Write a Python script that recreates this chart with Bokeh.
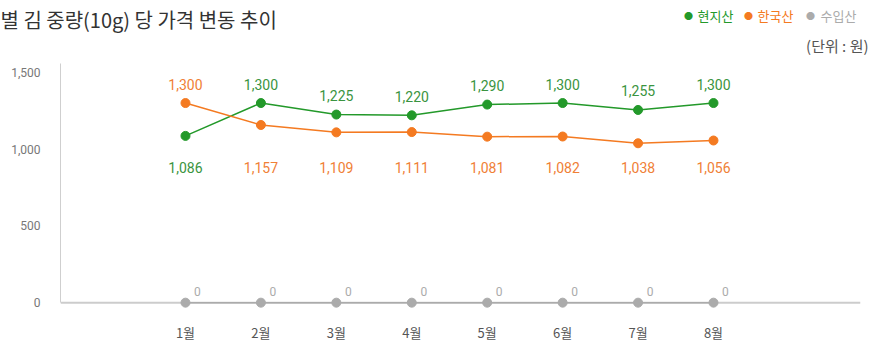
from bokeh.plotting import figure
from bokeh.layouts import column
from bokeh.models import Range1d, FixedTicker, NumeralTickFormatter, Span, Label, ColumnDataSource
from bokeh.core.properties import value
from bokeh.embed import file_html
from bokeh.resources import INLINE

# ---- data ----
months = ["1월", "2월", "3월", "4월", "5월", "6월", "7월", "8월"]
local_price = [1086, 1300, 1225, 1220, 1290, 1300, 1255, 1300]     # 현지산
korean_price = [1300, 1157, 1109, 1111, 1081, 1082, 1038, 1056]    # 한국산
imported_price = [0, 0, 0, 0, 0, 0, 0, 0]                          # 수입산
y_ticks = [0, 500, 1000, 1500]
series_names = ["현지산", "한국산", "수입산"]
title_text = "별 김 중량(10g) 당 가격 변동 추이"
unit_text = "(단위 : 원)"

GREEN = "#23992a"
GREEN_TXT = "#3a9440"
ORANGE = "#f47a21"
ORANGE_TXT = "#f08036"
GRAY = "#ababab"
KR = "Noto Sans CJK KR"
NUM = "Roboto"

W = 874
HEAD_H = 60
MAIN_H = 284
LEFT, RIGHT, BOTTOM = 60, 14, 28

# ---------- header (title, legend, unit) ----------
head = figure(width=W, height=HEAD_H, output_backend="svg", toolbar_location=None,
              min_border=0, x_range=Range1d(0, W), y_range=Range1d(HEAD_H, 0),
              frame_align=False)
head.axis.visible = False
head.grid.visible = False
head.outline_line_color = None
head.border_fill_color = "white"

def hlabel(px, py, txt, color, size, font=KR, align="left"):
    head.add_layout(Label(x=px, y=py, text=txt, text_font=font, text_font_size=size,
                          text_color=color, text_baseline="middle", text_align=align))

hlabel(0, 19, title_text, "#333333", "20px")
legend_items = [(688, 697, GREEN, series_names[0]), (748, 757, ORANGE, series_names[1]),
                (810, 820, GRAY, series_names[2])]
for dx, lx, col, name in legend_items:
    hlabel(dx, 15, "●", col, "9px", align="center")
    hlabel(lx, 15, name, col, "13px")
hlabel(868, 45, unit_text, "#555555", "15px", align="right")

# ---------- main chart ----------
x = list(range(len(months)))

p = figure(width=W, height=MAIN_H, output_backend="svg", toolbar_location=None,
           min_border_left=LEFT, min_border_right=RIGHT,
           min_border_top=0, min_border_bottom=BOTTOM,
           x_range=Range1d(-1.657, 8.949), y_range=Range1d(-64, 1577),
           frame_align=False)
p.outline_line_color = None
p.grid.visible = False
p.background_fill_color = "white"
p.border_fill_color = "white"

p.xaxis.ticker = FixedTicker(ticks=x)
p.xaxis.major_label_overrides = {i: m for i, m in enumerate(months)}
p.xaxis.axis_line_color = None
p.xaxis.major_tick_line_color = None
p.xaxis.minor_tick_line_color = None
p.xaxis.major_label_text_font = KR
p.xaxis.major_label_text_font_size = "13px"
p.xaxis.major_label_text_color = "#555555"
p.xaxis.major_label_standoff = 4

p.yaxis.ticker = FixedTicker(ticks=y_ticks)
p.yaxis.formatter = NumeralTickFormatter(format="0,0")
p.yaxis.bounds = (0, 1560)
p.yaxis.axis_line_color = "#cfcfcf"
p.yaxis.major_tick_line_color = None
p.yaxis.minor_tick_line_color = None
p.yaxis.major_label_text_font = NUM
p.yaxis.major_label_text_font_size = "12px"
p.yaxis.major_label_text_color = "#777777"
p.yaxis.major_label_standoff = 14

p.add_layout(Span(location=0, dimension="width", line_color="#cccccc", line_width=2, level="underlay"))

local_above = [a >= b for a, b in zip(local_price, korean_price)]
lower_vals = [min(a, b) for a, b in zip(local_price, korean_price)]
low_level = min(lower_vals)

def add_series(vals, color, txt_color, above_flags):
    src = ColumnDataSource(dict(
        x=x, y=vals,
        ly=[v if a else low_level for v, a in zip(vals, above_flags)],
        label=[f"{v:,}" for v in vals],
        yoff=[-19 if a else 24 for a in above_flags],
    ))
    p.line("x", "y", source=src, line_color=color, line_width=1.5)
    p.scatter("x", "y", source=src, size=9, fill_color=color, line_color=color)
    p.text("x", "ly", text="label", source=src, y_offset="yoff",
           text_align="center", text_baseline="middle",
           text_font=value(NUM), text_font_size="14px", text_color=txt_color)

add_series(local_price, GREEN, GREEN_TXT, local_above)
add_series(korean_price, ORANGE, ORANGE_TXT, [not a for a in local_above])

src_imp = ColumnDataSource(dict(x=x, y=imported_price, label=[f"{v:,}" for v in imported_price]))
p.line("x", "y", source=src_imp, line_color=GRAY, line_width=1.5)
p.scatter("x", "y", source=src_imp, size=9, fill_color=GRAY, line_color=GRAY)
p.text("x", "y", text="label", source=src_imp, x_offset=12, y_offset=-11,
       text_align="center", text_baseline="middle",
       text_font=value(NUM), text_font_size="12px", text_color=GRAY)

layout = column(head, p, spacing=0)
open("out.html", "w").write(file_html(layout, INLINE))
